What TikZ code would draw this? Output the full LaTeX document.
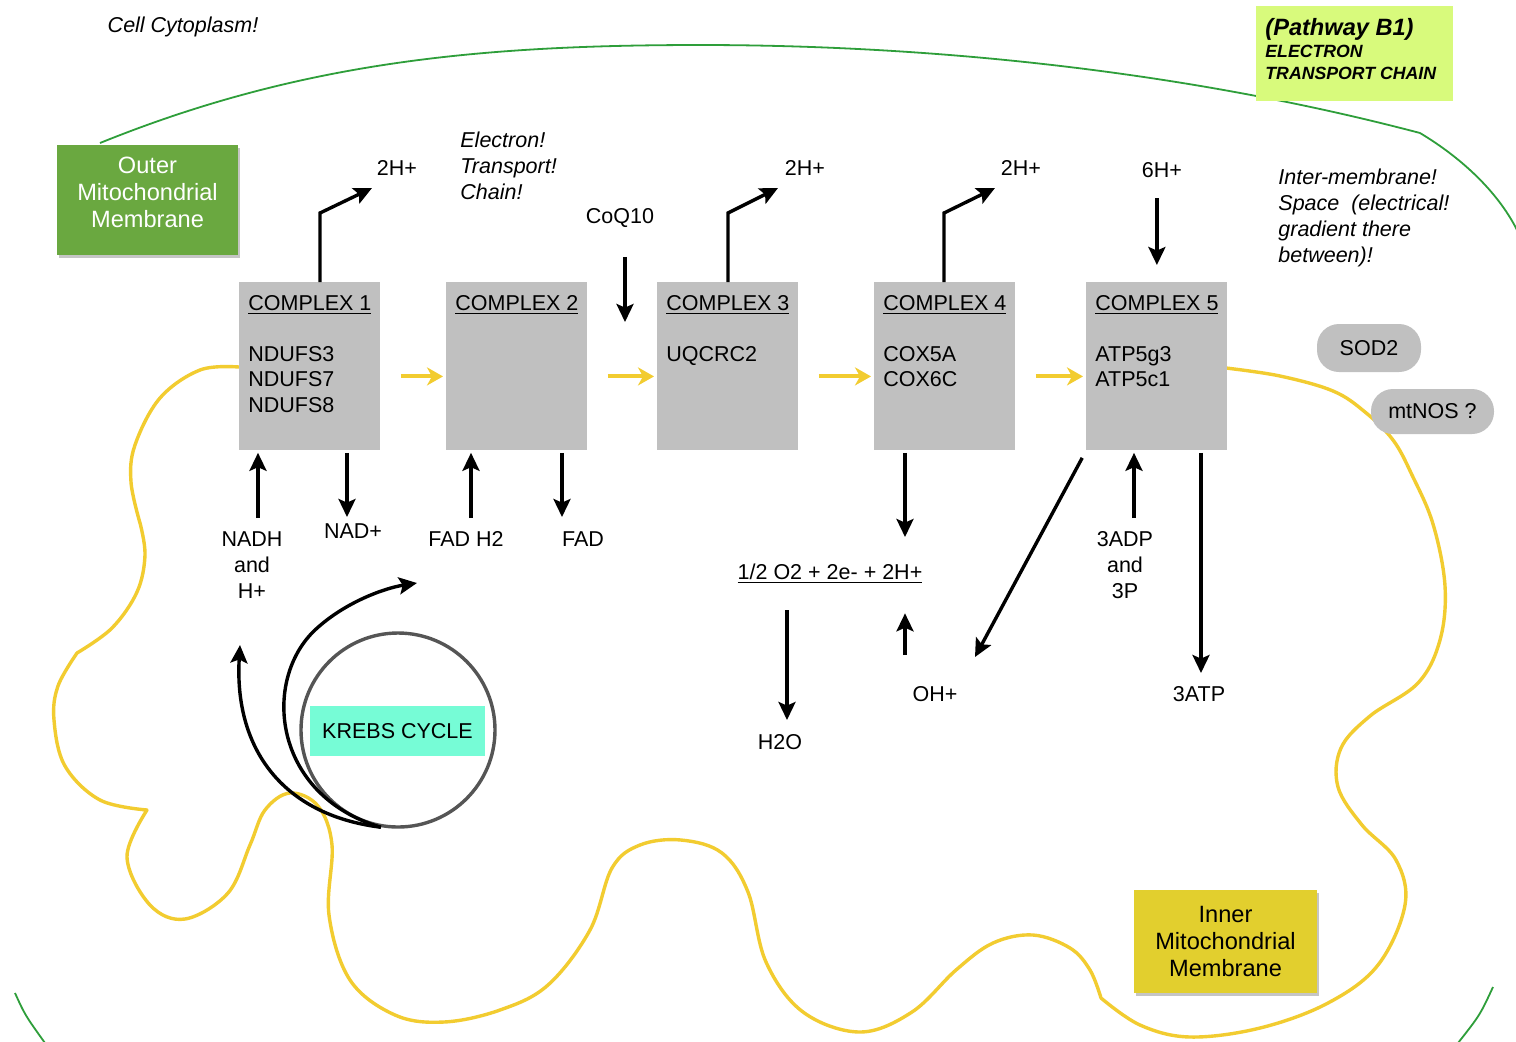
\documentclass[tikz,border=0pt]{standalone}
\usepackage{fontspec}
\setmainfont{Liberation Sans}
\usetikzlibrary{arrows.meta,shadows}

\definecolor{outergreen}{RGB}{46,158,58}
\definecolor{greenfill}{RGB}{106,168,64}
\definecolor{limefill}{RGB}{216,250,124}
\definecolor{cplxgray}{RGB}{192,192,192}
\definecolor{memyellow}{RGB}{242,204,48}
\definecolor{innerfill}{RGB}{226,207,46}
\definecolor{krebscyan}{RGB}{118,252,214}
\definecolor{ringgray}{RGB}{85,85,85}

\tikzset{
  lbl/.style={font=\fontsize{10.75}{13}\selectfont, inner sep=1pt, align=center},
  itx/.style={lbl, font=\fontsize{10.75}{13}\selectfont\itshape, align=left},
  cplx/.style={fill=cplxgray, minimum width=70.5pt, minimum height=84pt,
    anchor=north west, inner sep=0},
  cpltxt/.style={anchor=north west, align=left, inner sep=0,
    font=\fontsize{10.75}{12.75}\selectfont},
  blk/.style={-{Stealth[length=9pt,width=8.5pt,inset=1.8pt]}, line width=1.7pt},
  flow/.style={-{Stealth[length=8pt,width=9pt,inset=2.5pt]}, line width=2pt,
    memyellow, shorten <=10pt, shorten >=1.5pt},
  membrane/.style={memyellow, line width=1.7pt, line cap=round, line join=round},
  outerline/.style={outergreen, line width=0.9pt},
  pill/.style={lbl, fill=cplxgray, rounded corners=11pt, minimum height=23pt},
  notebox/.style={drop shadow={opacity=0.45, shadow xshift=0.8pt, shadow yshift=-1.5pt}},
  ring/.style={circle, draw=ringgray, line width=1.7pt, minimum size=97pt, inner sep=0},
  krebsbox/.style={lbl, fill=krebscyan, minimum width=87.5pt, minimum height=25pt}
}

\begin{document}
\begin{tikzpicture}[x=0.5pt,y=-0.5pt]

  \path[use as bounding box, fill=white] (0,0) rectangle (1516,1041);

  % outer membrane
  \draw[outerline] (100,143) .. controls (300,62) and (480,45) .. (700,45)
    .. controls (950,45) and (1200,75) .. (1420,133)
    .. controls (1465,160) and (1500,195) .. (1518,232);
  \draw[outerline] (15,993) .. controls (25,1015) .. (45,1043);
  \draw[outerline] (1493,987) .. controls (1480,1015) .. (1458,1043);

  % inner membrane
  \draw[membrane]
    plot[smooth, tension=0.6] coordinates {(239,367) (200,370) (160,398)
      (135,445) (131,482) (140,523)}
    plot[smooth, tension=0.6] coordinates {(140,523) (145,555) (137,592)
      (112,628) (77,653)}
    plot[smooth, tension=0.6] coordinates {(77,653) (58,686) (54,720)
      (65,766) (100,800) (147,810)}
    plot[smooth, tension=0.6] coordinates {(147,810) (127,857) (150,905)
      (185,919) (228,893) (250,845) (265,810) (290,793) (318,806) (332,845)
      (329,915) (350,980) (395,1015) (444,1022) (500,1010) (548,985)
      (590,930) (612,868) (640,845) (681,840) (722,853) (748,892) (766,962)
      (803,1012) (860,1032) (912,1012) (956,970) (993,943) (1033,935)
      (1070,948) (1090,970) (1101,998)}
    plot[smooth, tension=0.6] coordinates {(1101,998) (1140,1025)
      (1190,1037) (1260,1028) (1328,1003) (1378,965) (1405,905) (1396,860)
      (1362,825) (1338,787) (1341,748) (1370,716) (1418,683) (1440,640)
      (1445,586) (1433,524) (1412,475) (1393,440) (1365,412) (1333,391)
      (1280,376) (1226,368)};

  % notes
  \node[itx] (cyto) at (183,27) {Cell Cytoplasm!};
  \node[itx, anchor=west] (etcnote) at (458,166) {Electron!\\Transport!\\Chain!};
  \node[itx, anchor=west] (imsnote) at (1276,218)
    {Inter-membrane!\\Space \ (electrical!\\gradient there\\between)!};

  \node[fill=limefill, minimum width=98.5pt, minimum height=47.5pt] (pw) at (1354.5,53.5) {};
  \node[anchor=west, align=left, inner sep=0,
    font=\fontsize{8.85}{11}\selectfont\bfseries\itshape] (pwtxt) at (1265,49.5)
    {{\fontsize{11.8}{11}\selectfont (Pathway B1)}\\ELECTRON\\TRANSPORT CHAIN};

  \node[notebox, fill=greenfill, minimum width=90.5pt, minimum height=55pt] (outer) at (147.5,200) {};
  \node[lbl, text=white, font=\fontsize{11.8}{13.5}\selectfont] (outertxt) at (147.5,192)
    {Outer\\Mitochondrial\\Membrane};

  \node[notebox, lbl, fill=innerfill, minimum width=91.5pt, minimum height=51.5pt,
    font=\fontsize{11.8}{13.5}\selectfont] (inner) at (1225.5,941.5)
    {Inner\\Mitochondrial\\Membrane};

  % complexes
  \foreach \n/\x/\genes in {1/239/{NDUFS3\\NDUFS7\\NDUFS8}, 2/446/{},
      3/657/{UQCRC2}, 4/874/{COX5A\\COX6C}, 5/1086/{ATP5g3\\ATP5c1}} {
    \node[cplx] (c\n) at (\x,282) {};
    \node[cpltxt] (t\n) at ([xshift=4.5pt,yshift=-6.5pt]c\n.north west)
      {\underline{COMPLEX \n}\\[12.75pt]\genes};
  }
  \foreach \a/\b in {1/2,2/3,3/4,4/5}
    \draw[flow] ([yshift=-5pt]c\a.east) -- ([yshift=-5pt]c\b.west);

  \node[pill, minimum width=52pt, minimum height=24pt] (sod) at (1369,348) {SOD2};
  \node[pill, minimum width=61.5pt, minimum height=22.5pt] (mtnos) at (1432.5,411.5) {mtNOS ?};

  % labels
  \node[lbl] (hp1) at (397,168) {2H+};
  \node[lbl] (hp3) at (805,168) {2H+};
  \node[lbl] (hp4) at (1021,168) {2H+};
  \node[lbl] (hp6) at (1162,170) {6H+};
  \node[lbl] (coq) at (620,218) {CoQ10};
  \node[lbl] (nadh) at (252,565) {NADH\\and\\H+};
  \node[lbl] (nad) at (353,531) {NAD+};
  \node[lbl] (fadh) at (466,539) {FAD H2};
  \node[lbl] (fad) at (583,539) {FAD};
  \node[lbl] (rxn) at (830,574) {\underline{1/2 O2 + 2e- + 2H+}};
  \node[lbl] (h2o) at (780,742) {H2O};
  \node[lbl] (oh) at (935,694) {OH+};
  \node[lbl] (adp) at (1125,565) {3ADP\\and\\3P};
  \node[lbl] (atp) at (1199,694) {3ATP};

  % arrow ends
  \coordinate (tip1) at (372,188);
  \coordinate (tip3) at (778,188);
  \coordinate (tip4) at (995,188);
  \coordinate (coqdn) at (625,322);
  \coordinate (nadhup) at (258,518);
  \coordinate (naddn) at (347,517);
  \coordinate (fadhup) at (471,518);
  \coordinate (faddn) at (562,517);
  \coordinate (o2dn) at (905,537);
  \coordinate (h2odn) at (787,720);
  \coordinate (ohup) at (905,655);
  \coordinate (ohtip) at (975,657);
  \coordinate (adpup) at (1134,518);
  \coordinate (atpdn) at (1201,673);
  \coordinate (nadhin) at (240,645);
  \coordinate (fadin) at (417,583);

  % proton and substrate arrows
  \foreach \n/\x in {1/320,3/728,4/944}
    \draw[blk] (\x,0 |- c\n.north) -- (\x,213) -- (tip\n);
  \draw[blk, shorten <=9pt, shorten >=8.5pt] (c5.north |- hp6.south) -- (c5.north);
  \draw[blk, shorten <=13.5pt] (coqdn |- coq.south) -- (coqdn);
  \draw[blk, shorten >=1pt] (nadhup) -- (nadhup |- c1.south);
  \draw[blk, shorten <=1pt] (naddn |- c1.south) -- (naddn);
  \draw[blk, shorten >=1pt] (fadhup) -- (fadhup |- c2.south);
  \draw[blk, shorten <=1pt] (faddn |- c2.south) -- (faddn);
  \draw[blk, shorten <=1pt] (o2dn |- c4.south) -- (o2dn);
  \draw[blk, shorten <=12pt] (h2odn |- rxn.south) -- (h2odn);
  \draw[blk, shorten >=13.5pt] (ohup) -- (ohup |- rxn.south);
  \draw[blk, shorten <=4pt] (c5.south west) -- (ohtip);
  \draw[blk, shorten >=1pt] (adpup) -- (adpup |- c5.south);
  \draw[blk, shorten <=1pt] (atpdn |- c5.south) -- (atpdn);

  % krebs cycle
  \node[ring] (kc) at (398,730) {};
  \node[krebsbox] (kl) at (397.5,731) {KREBS CYCLE};
  \draw[blk] (kc.-100) .. controls (282,815) and (234,748) .. (nadhin);
  \draw[blk] (kc.-100) .. controls (272,795) and (262,680) .. (315,630)
    .. controls (345,602) and (385,588) .. (fadin);

\end{tikzpicture}
\end{document}
